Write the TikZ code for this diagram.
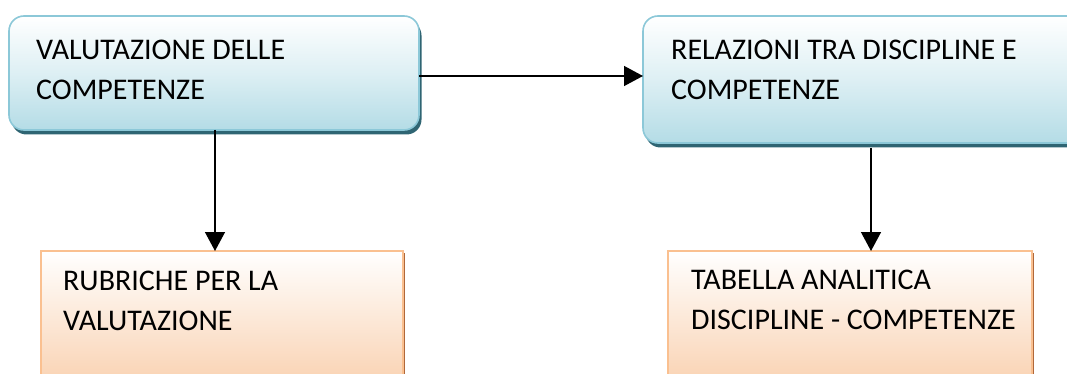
\documentclass[tikz,border=0pt]{standalone}
\usepackage{fontspec}
\setmainfont{Carlito}
\usetikzlibrary{arrows.meta,shadows}
\definecolor{bluefill}{HTML}{B4DCE6}
\definecolor{blueline}{HTML}{8CC8D8}
\definecolor{blueshadow}{HTML}{2F6573}
\definecolor{orfill}{HTML}{F9D0AE}
\definecolor{orline}{HTML}{FAC090}
\definecolor{orshadow}{HTML}{B0683A}
\tikzset{
  bluebox/.style={draw=blueline, line width=1.6pt, rounded corners=15pt,
    top color=white, bottom color=bluefill, middle color=bluefill!45,
    anchor=north west, inner sep=0pt, outer sep=0pt,
    drop shadow={shadow xshift=2.5pt, shadow yshift=-4.5pt, fill=blueshadow, opacity=1}},
  orbox/.style={draw=orline, line width=1.6pt,
    top color=white, bottom color=orfill,
    anchor=north west, inner sep=0pt, outer sep=0pt,
    drop shadow={shadow xshift=2pt, shadow yshift=-2pt, fill=orshadow, opacity=1}},
  txt/.style={anchor=base west, inner sep=0pt, font=\fontsize{30pt}{36pt}\selectfont},
  conn/.style={line width=1.4pt, -{Triangle[length=19pt,width=20pt]}}
}
\begin{document}
\begin{tikzpicture}[x=1pt,y=-1pt]
\useasboundingbox (0,0) rectangle (1067,374);
\clip (0,0) rectangle (1067,374);
\node[bluebox, minimum width=410pt, minimum height=114pt] (a) at (9,16) {};
\node[bluebox, minimum width=440pt, minimum height=127pt] (b) at (643,16) {};
\node[orbox, minimum width=362pt, minimum height=140pt] (c) at (41,251) {};
\node[orbox, minimum width=364pt, minimum height=140pt] (d) at (668,251) {};
\node[txt] (ta1) at (36,60) {VALUTAZIONE DELLE};
\node[txt] (ta2) at (36,100) {COMPETENZE};
\node[txt] (tb1) at (671,60) {RELAZIONI TRA DISCIPLINE E};
\node[txt] (tb2) at (671,100) {COMPETENZE};
\node[txt] (tc1) at (63,290) {RUBRICHE PER LA};
\node[txt] (tc2) at (63,330) {VALUTAZIONE};
\node[txt] (td1) at (691,289) {TABELLA ANALITICA};
\node[txt] (td2) at (691,329) {DISCIPLINE - COMPETENZE};
\draw[conn] (a.east |- 0,76) -- (b.west |- 0,76);
\draw[conn] (a.south -| 215,0) -- (c.north -| 215,0);
\draw[conn] (871,148) coordinate (bs) -- (d.north -| 871,0);
\end{tikzpicture}
\end{document}
